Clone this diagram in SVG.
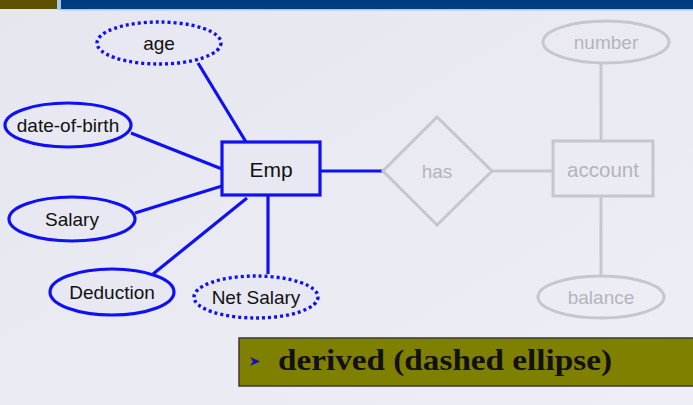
<svg xmlns="http://www.w3.org/2000/svg" width="693" height="405" viewBox="0 0 693 405">
<defs>
<linearGradient id="bg" x1="0" y1="0" x2="1" y2="1">
<stop offset="0" stop-color="#e6e6ef"/>
<stop offset="1" stop-color="#eeeef6"/>
</linearGradient>
<style>
.attr{fill:#e8e8f2;stroke:#1010f4;stroke-width:3.2}
.derived{fill:#e8e8f2;stroke:#1010f4;stroke-width:3.4;stroke-dasharray:3 3}
.ent{fill:#e8e8f2;stroke:#1010f4;stroke-width:3.2}
.lbl{font-family:"Liberation Sans",Arial,sans-serif;font-size:19px;fill:#111;text-anchor:middle}
.faded{fill:none;stroke:#c6c6cc;stroke-width:3}
.flbl{font-family:"Liberation Sans",Arial,sans-serif;font-size:19px;fill:#b4b4bc;text-anchor:middle}
.conn{stroke:#1010f4;stroke-width:3.2;fill:none}
.fconn{stroke:#c6c6cc;stroke-width:3;fill:none}
</style>
</defs>
<rect width="693" height="405" fill="url(#bg)"/>
<rect x="0" y="0" width="57" height="9" fill="#5e5000"/>
<rect x="57" y="0" width="4" height="10" fill="#a8c8ec"/>
<rect x="61" y="0" width="632" height="9" fill="#003c80"/>
<rect x="61" y="9" width="632" height="1.5" fill="#a8c8ec"/>

<g id="connectors">
<line class="conn" x1="198" y1="63" x2="246" y2="142"/>
<line class="conn" x1="131" y1="133" x2="222" y2="169"/>
<line class="conn" x1="135" y1="213" x2="222" y2="186"/>
<line class="conn" x1="153" y1="274" x2="247" y2="198"/>
<line class="conn" x1="268" y1="196" x2="268" y2="274"/>
<line class="conn" x1="321" y1="171" x2="383" y2="171"/>
<line class="fconn" x1="492" y1="171" x2="553" y2="171"/>
<line class="fconn" x1="601" y1="63" x2="601" y2="141"/>
<line class="fconn" x1="601" y1="196" x2="601" y2="275"/>
</g>

<g id="age">
<ellipse class="derived" cx="159" cy="43" rx="62" ry="21"/>
<text class="lbl" x="159" y="50">age</text>
</g>
<g id="date-of-birth">
<ellipse class="attr" cx="68" cy="125" rx="63" ry="22"/>
<text class="lbl" x="68" y="132">date-of-birth</text>
</g>
<g id="salary">
<ellipse class="attr" cx="72" cy="219" rx="63" ry="22"/>
<text class="lbl" x="72" y="226">Salary</text>
</g>
<g id="deduction">
<ellipse class="attr" cx="112" cy="292" rx="62" ry="23"/>
<text class="lbl" x="112" y="299">Deduction</text>
</g>
<g id="net-salary">
<ellipse class="derived" cx="256" cy="297" rx="62" ry="21"/>
<text class="lbl" x="256" y="304">Net Salary</text>
</g>
<g id="emp">
<rect class="ent" x="222" y="142" width="98" height="53"/>
<text class="lbl" x="271" y="177" style="font-size:21px">Emp</text>
</g>
<g id="has">
<polygon class="faded" points="437,117 492,171 437,225 383,171"/>
<text class="flbl" x="437" y="178">has</text>
</g>
<g id="account">
<rect class="faded" x="553" y="141" width="100" height="55"/>
<text class="flbl" x="603" y="177" style="font-size:20.5px">account</text>
</g>
<g id="number">
<ellipse class="faded" cx="606" cy="42" rx="63" ry="21"/>
<text class="flbl" x="606" y="49">number</text>
</g>
<g id="balance">
<ellipse class="faded" cx="601" cy="297" rx="63" ry="21"/>
<text class="flbl" x="601" y="304">balance</text>
</g>

<g id="note">
<rect x="239" y="338" width="460" height="48" fill="#808000" stroke="#3a3a30" stroke-width="1.5"/>
<polygon points="250,357 260,361.5 250,366 253,361.5" fill="#1010c0"/>
<text x="278" y="370" font-family="'Liberation Serif','Times New Roman',serif" font-weight="bold" font-size="30" fill="#111" textLength="334" lengthAdjust="spacingAndGlyphs">derived (dashed ellipse)</text>
</g>
</svg>
